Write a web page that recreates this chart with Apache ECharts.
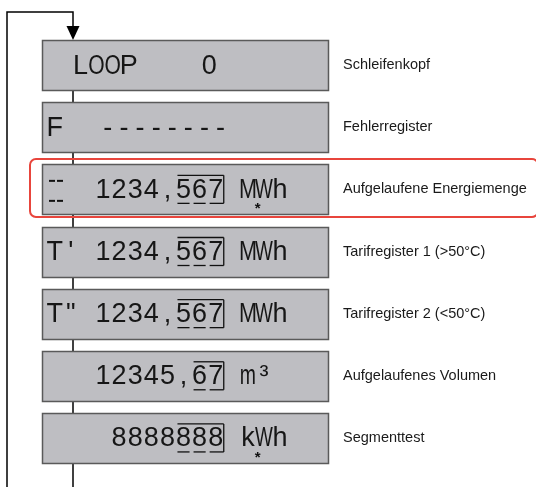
<!DOCTYPE html>
<html>
<head>
<meta charset="utf-8">
<script src="https://cdn.jsdelivr.net/npm/echarts@6/dist/echarts.min.js"></script>
<style>html,body{margin:0;padding:0;background:#fff}#c{width:536px;height:487px}</style>
</head>
<body>
<div id="c"></div>
<script>
// ---- data ----
const descriptions = ["Schleifenkopf", "Fehlerregister", "Aufgelaufene Energiemenge",
  "Tarifregister 1 (>50°C)", "Tarifregister 2 (<50°C)", "Aufgelaufenes Volumen", "Segmenttest"];
// LCD content: [start column, text]
const lcdSegments = [
  [[1.6, "LOOP"], [9.6, "0"]],
  [[0, "F"], [3.3, "--------"]],
  [[3, "1234,567"], [12, "MWh"]],
  [[0, "T'"], [3, "1234,567"], [12, "MWh"]],
  [[0, "T\""], [3, "1234,567"], [12, "MWh"]],
  [[3, "12345,67"], [12, "m³"]],
  [[4, "8888888"], [12, "kWh"]]
];
const boxedDigits = [null, null, [8, 10], [8, 10], [8, 10], [9, 10], [8, 10]];
const starCol = [null, null, 12.6, null, null, null, 12.6];
const tariffMark = [false, false, true, false, false, false, false];
const highlighted = [false, false, true, false, false, false, false];

// ---- layout / style ----
const BOX_LEFT = 42, BOX_RIGHT = 328, SPINE_X = 73, LOOP_X = 7, LABEL_X = 343;
const COL0 = 54.7, COLW = 16.1;
const LCD_FONT = '27px "Liberation Sans", Arial, sans-serif';
const GLYPH_SCALE = { M: 0.8, W: 0.7, O: 0.78, m: 0.72 };
const colX = c => COL0 + c * COLW;

function renderItem(params, api) {
  const i = api.value(1);
  const cy = api.coord([0, i])[1];
  const band = api.size([0, 1])[1];
  const bh = Math.round(band * 0.805);
  const xl = api.coord([BOX_LEFT, i])[0];
  const xr = api.coord([BOX_RIGHT, i])[0];
  const sx = api.coord([SPINE_X, i])[0];
  const lx = api.coord([LOOP_X, i])[0];
  const top = Math.round(cy - bh / 2);
  const children = [];
  const black = { stroke: '#000', lineWidth: 1.5 };

  if (i === 0) {
    const H = api.getHeight();
    children.push({ type: 'polyline', shape: { points: [[sx, 29], [sx, 12], [lx, 12], [lx, H]] }, style: Object.assign({ fill: null }, black) });
    children.push({ type: 'polygon', shape: { points: [[sx - 6.5, 26], [sx + 6.5, 26], [sx, top]] }, style: { fill: '#000' } });
    children.push({ type: 'line', shape: { x1: sx, y1: top, x2: sx, y2: H }, style: black });
  }
  if (highlighted[i]) {
    children.push({ type: 'rect', shape: { x: 30, y: top - 5, width: 508, height: bh + 8, r: 6 },
      style: { fill: null, stroke: '#e8453c', lineWidth: 2 } });
  }
  children.push({ type: 'rect', shape: { x: xl + 0.5, y: top + 0.5, width: xr - xl, height: bh },
    style: { fill: '#bebec2', stroke: '#5a5a5a', lineWidth: 1.5 } });

  lcdSegments[i].forEach(([start, txt]) => {
    Array.from(txt).forEach((ch, k) => {
      if (ch === ' ') return;
      const s = GLYPH_SCALE[ch] || 1;
      children.push({ type: 'text', x: colX(start + k), y: cy + 1, scaleX: s,
        style: { text: ch, x: 0, y: 0, align: 'center', verticalAlign: 'middle', font: LCD_FONT, fill: '#161616' } });
    });
  });

  if (tariffMark[i]) {
    [cy - 8.5, cy + 11.5].forEach(yy => {
      children.push({ type: 'line', shape: { x1: 49, y1: yy, x2: 55, y2: yy }, style: { stroke: '#111', lineWidth: 2 } });
      children.push({ type: 'line', shape: { x1: 57, y1: yy, x2: 63, y2: yy }, style: { stroke: '#111', lineWidth: 2 } });
    });
  }
  const bd = boxedDigits[i];
  if (bd) {
    const x1 = colX(bd[0]) - COLW / 2 + 2, x2 = colX(bd[1]) + COLW / 2;
    const yt = cy - 14, yb = cy + 14;
    const st = { stroke: '#111', lineWidth: 1.3 };
    children.push({ type: 'line', shape: { x1: x1, y1: yt, x2: x2, y2: yt }, style: st });
    children.push({ type: 'line', shape: { x1: x2, y1: yt, x2: x2, y2: yb }, style: st });
    for (let c = bd[0]; c <= bd[1]; c++) {
      const a = colX(c) - COLW / 2 + 2, b = c === bd[1] ? x2 : colX(c) + COLW / 2 - 2;
      children.push({ type: 'line', shape: { x1: a, y1: yb, x2: b, y2: yb }, style: st });
    }
  }
  if (starCol[i] != null) {
    children.push({ type: 'text', style: { text: '*', x: colX(starCol[i]), y: cy + 20, align: 'center', verticalAlign: 'middle', font: 'bold 15px "Liberation Sans", Arial', fill: '#111' } });
  }
  children.push({ type: 'text', style: { text: descriptions[i], x: LABEL_X, y: cy, align: 'left', verticalAlign: 'middle', font: '14.5px "Liberation Sans", Arial, sans-serif', fill: '#1a1a1a' } });
  return { type: 'group', children: children };
}

const chart = echarts.init(document.getElementById('c'), null, { renderer: 'canvas' });
chart.setOption({
  animation: false,
  grid: { left: 0, right: 0, top: 34, height: 435 },
  xAxis: { type: 'value', min: 0, max: 536, show: false },
  yAxis: { type: 'category', inverse: true, data: descriptions, show: false },
  series: [{
    type: 'custom',
    renderItem: renderItem,
    data: descriptions.map((d, i) => [0, i]),
    encode: { x: 0, y: 1 },
    clip: false
  }]
});
</script>
</body>
</html>
